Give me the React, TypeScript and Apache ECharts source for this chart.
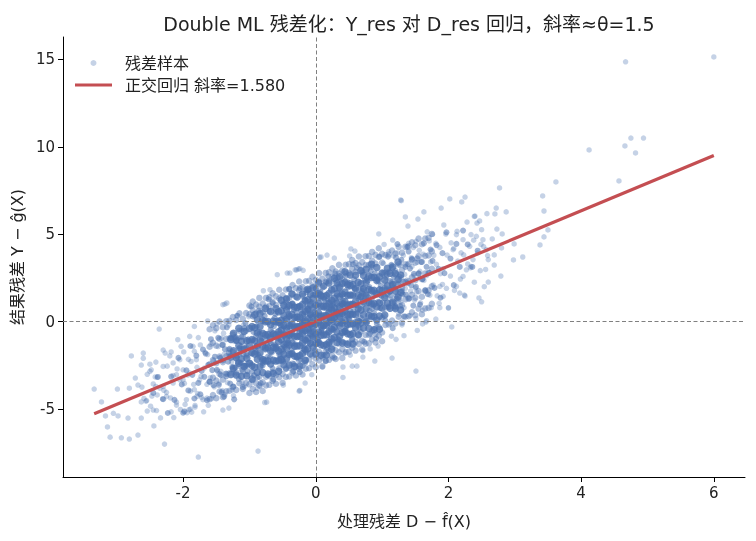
import React, { useEffect, useRef } from "react";
import * as echarts from "echarts";

const FONT = "'DejaVu Sans', 'Noto Sans CJK SC', sans-serif";
const TITLE = "Double ML 残差化：Y_res 对 D_res 回归，斜率≈θ=1.5";
const X_LABEL = "处理残差 D − f\u0302(X)";
const Y_LABEL = "结果残差 Y − ĝ(X)";
const SCATTER_NAME = "残差样本";
const FIT_NAME = "正交回归 斜率=1.580";

const xTicks = [-2, 0, 2, 4, 6];
const yTicks = [-5, 0, 5, 10, 15];
const xLimits = [-3.81, 6.47];
const yLimits = [-8.88, 16.28];

const fitLine = [[-3.34, -5.26], [6.0, 9.5]];

// dense centre of the cloud
const coreSamples = [
  [0.01,0.32],[0.03,-1.15],[0.04,0.86],[0.06,-0.01],[0.07,1.71],[0.09,-0.46],[0.1,0.21],[0.12,-1.91],[0.13,1.31],[0.15,-0.16],[0.16,0.75],[0.18,-0.62],[0.19,2.6],[0.21,0.13],[0.22,1.05],[0.24,-1.12],[0.02,0.18],[0.05,1.38],[0.08,-0.57],[0.11,0.12],[0.14,1.12],[0.17,-1.53],[0.2,0.72],[0.23,0.06],[0.0,1.9],[0.03,-0.95],[0.06,0.35],[0.09,-0.36],[0.12,0.79],[0.15,-2.26],[0.18,1.28],[0.21,0.18],[0.24,0.73],[0.02,-1.27],[0.07,1.61],[0.1,-0.64],[0.13,0.21],[0.16,2.25],[0.19,-0.05],[0.22,0.9],[0.04,-1.04],[0.08,1.33],[0.11,-0.28],[0.17,0.37],[0.2,-1.28],
  [-0.01,-1.62],[-0.03,0.05],[-0.04,-0.51],[-0.06,1.11],[-0.07,-1.21],[-0.09,0.41],[-0.1,-0.51],[-0.12,1.81],[-0.13,-0.21],[-0.15,-1.04],[-0.16,1.25],[-0.18,-1.58],[-0.19,0.05],[-0.21,-0.48],[-0.22,0.65],[-0.24,-2.88],[-0.02,0.57],[-0.05,-0.58],[-0.08,0.12],[-0.11,-1.17],[-0.14,1.68],[-0.17,-0.57],[-0.2,0.08],[-0.23,-2.16],[-0.125,0.7],[-0.03,-0.1],[-0.06,-0.8],[-0.09,1.16],[-0.12,-0.04],[-0.15,-1.74],[-0.18,0.42],[-0.21,-0.53],[-0.24,1.92],[-0.02,-0.93],[-0.07,0.39],[-0.1,-0.56],[-0.13,0.9],[-0.16,-2.35],[-0.19,-0.25],[-0.22,-0.95],[-0.04,1.54],[-0.08,-0.23],[-0.11,0.63],[-0.17,-1.47],[-0.2,-0.02],
  [0.26,0.91],[0.27,-0.47],[0.29,2.76],[0.3,0.27],[0.31,1.19],[0.33,-0.98],[0.34,0.69],[0.35,1.85],[0.37,-0.12],[0.38,0.55],[0.39,1.52],[0.41,-1.15],[0.42,1.06],[0.43,0.38],[0.45,2.61],[0.46,-0.27],[0.47,0.99],[0.49,0.27],[0.26,1.01],[0.28,-2.06],[0.32,1.51],[0.36,0.42],[0.4,0.98],[0.44,-0.61],[0.48,2.26],[0.25,-0.41],[0.29,0.46],[0.33,2.52],[0.37,0.24],[0.41,1.2],[0.45,-0.39],[0.49,1.97],[0.27,-0.02],[0.31,0.59],[0.35,-1.05],[0.39,0.92],[0.43,-0.52],[0.47,1.54],[0.28,0.34],[0.34,2.14],[0.4,0.03],[0.46,0.78],
  [-0.46,-1.23],[-0.4,0.27],[-0.34,-2.84],[-0.28,-0.24],[-0.47,-1.44],[-0.43,0.82],[-0.39,-0.77],[-0.35,-1.85],[-0.31,0.21],[-0.27,-0.38],[-0.49,-1.67],[-0.45,1.09],[-0.41,-1.05],[-0.37,-0.29],[-0.33,-2.42],[-0.29,0.54],[-0.25,-0.65],[-0.48,-0.26],[-0.44,-1.3],[-0.4,1.87],[-0.36,-1.57],[-0.32,-0.36],[-0.28,-0.79],[-0.26,0.89],[-0.49,-2.27],[-0.47,0.06],[-0.46,-0.73],[-0.45,-2.71],[-0.43,-0.33],[-0.42,-1.21],[-0.41,0.45],[-0.39,-1.82],[-0.38,-0.15],[-0.37,-0.69],[-0.35,1.05],[-0.34,-0.84],[-0.33,0.68],[-0.31,-1.29],[-0.3,-0.37],[-0.29,-2.06],[-0.27,0.17],[-0.26,-0.46],
  [0.51,0.11],[0.52,2.22],[0.53,1.04],[0.55,-1.03],[0.56,1.49],[0.57,0.6],[0.58,1.92],[0.6,-0.15],[0.61,0.96],[0.62,3.08],[0.63,0.5],[0.65,1.83],[0.66,-0.36],[0.67,1.41],[0.68,0.22],[0.7,2.81],[0.71,0.97],[0.72,1.59],[0.73,-1.15],[0.74,2.37],[0.5,0.19],[0.54,0.95],[0.59,1.88],[0.64,-0.24],[0.69,1.64],[0.52,0.62],[0.56,3.29],[0.6,0.0],[0.64,1.31],[0.68,-0.58],[0.72,1.89],[0.54,0.45],[0.58,2.42],[0.62,0.93],[0.66,0.04],[0.7,1.76],[0.74,1.32],
  [-0.51,-0.66],[-0.53,-0.19],[-0.55,-1.87],[-0.57,-0.95],[-0.59,0.57],[-0.61,-1.36],[-0.63,-0.25],[-0.65,-2.68],[-0.67,-0.76],[-0.69,-2.04],[-0.71,1.28],[-0.73,-1.35],[-0.52,-0.27],[-0.54,-2.1],[-0.56,0.07],[-0.58,-0.82],[-0.6,-1.55],[-0.62,0.22],[-0.64,-3.31],[-0.66,-0.59],[-0.68,-1.22],[-0.7,0.59],[-0.72,-1.99],[-0.74,-0.82],[-0.5,-2.19],[-0.55,-0.07],[-0.6,-1.45],[-0.65,1.07],[-0.7,-1.11],[-0.53,-1.94],[-0.58,0.08],[-0.63,-1.3],[-0.68,-0.47],[-0.73,-3.05],[-0.56,-0.69],[-0.61,0.44],[-0.66,-1.74],
  [0.76,1.6],[0.77,-0.08],[0.78,2.33],[0.8,1.06],[0.81,1.98],[0.82,-0.7],[0.84,3.13],[0.85,0.74],[0.86,1.41],[0.88,0.49],[0.89,2.76],[0.9,1.67],[0.92,-0.1],[0.93,2.37],[0.94,1.14],[0.96,3.72],[0.97,0.78],[0.98,2.05],[0.75,0.04],[0.79,1.4],[0.83,2.91],[0.87,0.93],[0.91,-0.96],[0.95,2.3],[0.99,1.46],[0.77,2.47],[0.81,0.63],[0.85,1.69],[0.89,-0.39],[0.93,2.47],[0.97,1.53],
  [-0.76,-1.6],[-0.78,0.07],[-0.8,-2.36],[-0.82,-1.1],[-0.84,-2.03],[-0.86,0.64],[-0.88,-3.19],[-0.9,-0.82],[-0.92,-1.5],[-0.94,-0.59],[-0.96,-2.87],[-0.98,-1.8],[-0.77,0.33],[-0.79,-2.15],[-0.81,-0.93],[-0.83,-3.51],[-0.85,-0.59],[-0.87,-1.88],[-0.89,-0.26],[-0.91,-1.59],[-0.93,-3.07],[-0.95,-1.05],[-0.97,0.87],[-0.99,-2.36],[-0.75,-1.09],[-0.8,-2.51],[-0.85,-0.69],[-0.9,-1.77],[-0.95,0.3],[-0.78,-2.23],[-0.88,-1.39],
  [1.01,1.1],[1.02,2.81],[1.04,1.94],[1.05,0.06],[1.06,2.53],[1.08,1.56],[1.09,3.72],[1.1,0.84],[1.12,2.32],[1.13,1.49],[1.14,3.25],[1.16,-0.37],[1.17,1.95],[1.18,2.56],[1.2,0.85],[1.21,3.66],[1.22,1.33],[1.24,2.16],[1.0,0.23],[1.07,2.69],[1.11,1.7],[1.15,2.27],[1.19,1.08],[1.23,4.44],
  [-1.01,-1.1],[-1.03,-2.83],[-1.04,-1.94],[-1.06,-0.08],[-1.07,-2.54],[-1.09,-1.57],[-1.1,-3.74],[-1.12,-0.87],[-1.13,-2.34],[-1.15,-1.52],[-1.16,-3.28],[-1.18,0.34],[-1.19,-1.98],[-1.21,-2.61],[-1.22,-0.88],[-1.24,-3.71],[-1.02,-1.01],[-1.05,-1.86],[-1.08,-0.36],[-1.11,-2.75],[-1.14,-1.75],[-1.17,-2.3],[-1.2,-1.1],[-1.23,-4.44],
  [1.26,2.59],[1.27,0.91],[1.29,3.54],[1.3,1.75],[1.32,2.29],[1.33,0.3],[1.35,3.13],[1.36,1.55],[1.38,4.28],[1.39,2.2],[1.41,1.33],[1.42,3.04],[1.44,2.08],[1.45,3.59],[1.47,0.92],[1.48,2.74],[1.31,1.57],[1.4,4.01],
  [-1.26,-2.59],[-1.28,-0.92],[-1.29,-3.54],[-1.31,-1.77],[-1.32,-2.29],[-1.34,-0.32],[-1.35,-3.13],[-1.37,-1.57],[-1.38,-4.28],[-1.4,-2.21],[-1.41,-1.33],[-1.43,-3.06],[-1.44,-2.08],[-1.46,-3.61],[-1.47,-0.92],[-1.49,-2.75],[-1.3,-1.55],[-1.42,-4.04],
  [1.51,1.99],[1.53,3.62],[1.55,2.75],[1.57,0.98],[1.59,3.41],[1.61,2.44],[1.63,4.48],[1.65,1.81],[1.67,3.14],[1.69,1.57],[1.71,2.8],[1.73,4.13],
  [-1.52,-2.0],[-1.54,-3.63],[-1.56,-2.77],[-1.58,-1.0],[-1.6,-3.43],[-1.62,-2.46],[-1.64,-4.49],[-1.66,-1.82],[-1.68,-3.15],[-1.7,-1.59],[-1.72,-2.82],[-1.74,-4.15],
  [1.76,3.48],[1.79,1.93],[1.82,4.38],[1.85,3.02],[1.88,1.37],[1.91,3.92],[1.94,2.77],[1.97,5.11],
  [-1.77,-3.5],[-1.8,-1.94],[-1.83,-4.39],[-1.86,-3.04],[-1.89,-1.39],[-1.92,-3.93],[-1.95,-2.78],[-1.98,-5.13],
  [2.03,3.61],[2.08,2.09],[2.12,4.45],[2.17,3.13],[2.22,5.21],
  [-2.02,-3.59],[-2.07,-2.07],[-2.13,-4.47],[-2.18,-3.14],[-2.23,-5.22],
  [2.29,4.42],[2.36,3.13],[2.44,4.06],
  [-2.3,-4.43],[-2.38,-3.16],[-2.45,-4.07],
];

// the saturated inner band: one x position, several y values read down the band
const innerBand: [number, number[]][] = [
  [-1.28, [-3.02, -2.02, -1.02]], [-1.24, [-2.66, -1.66, -0.66]], [-1.2, [-3.05, -2.05, -1.05]], [-1.16, [-2.38, -1.38, -0.38]],
  [-1.12, [-3.12, -2.12, -1.12]], [-1.08, [-2.56, -1.56, -0.56]], [-1.04, [-3.09, -2.09, -1.09]], [-1.0, [-2.38, -1.38, -0.38]],
  [-0.96, [-3.27, -2.52, -1.77, -1.02, -0.27]], [-0.92, [-2.6, -1.85, -1.1, -0.35, 0.4]], [-0.88, [-2.89, -2.14, -1.39, -0.64, 0.11]],
  [-0.84, [-2.53, -1.78, -1.03, -0.28, 0.47]], [-0.8, [-2.91, -2.16, -1.41, -0.66, 0.09]], [-0.76, [-2.25, -1.5, -0.75, 0.0, 0.75]],
  [-0.72, [-2.99, -2.24, -1.49, -0.74, 0.01]], [-0.68, [-2.42, -1.67, -0.92, -0.17, 0.58]], [-0.64, [-2.96, -2.21, -1.46, -0.71, 0.04]],
  [-0.6, [-2.25, -1.5, -0.75, 0.0, 0.75]],
  [-0.56, [-2.83, -2.23, -1.68, -1.13, -0.58, -0.03, 0.57]], [-0.52, [-2.17, -1.57, -1.02, -0.47, 0.08, 0.63, 1.23]],
  [-0.48, [-2.46, -1.86, -1.31, -0.76, -0.21, 0.34, 0.94]], [-0.44, [-2.1, -1.5, -0.95, -0.4, 0.15, 0.7, 1.3]],
  [-0.4, [-2.48, -1.88, -1.33, -0.78, -0.23, 0.32, 0.92]], [-0.36, [-1.82, -1.22, -0.67, -0.12, 0.43, 0.98, 1.58]],
  [-0.32, [-2.56, -1.96, -1.41, -0.86, -0.31, 0.24, 0.84]], [-0.28, [-1.99, -1.39, -0.84, -0.29, 0.26, 0.81, 1.41]],
  [-0.24, [-2.53, -1.93, -1.38, -0.83, -0.28, 0.27, 0.87]], [-0.2, [-1.82, -1.22, -0.67, -0.12, 0.43, 0.98, 1.58]],
  [-0.16, [-2.2, -1.6, -1.05, -0.5, 0.05, 0.6, 1.2]], [-0.12, [-1.54, -0.94, -0.39, 0.16, 0.71, 1.26, 1.86]],
  [-0.08, [-1.83, -1.23, -0.68, -0.13, 0.42, 0.97, 1.57]], [-0.04, [-1.46, -0.86, -0.31, 0.24, 0.79, 1.34, 1.94]],
  [0.0, [-1.85, -1.25, -0.7, -0.15, 0.4, 0.95, 1.55]], [0.04, [-1.19, -0.59, -0.04, 0.51, 1.06, 1.61, 2.21]],
  [0.08, [-1.92, -1.32, -0.77, -0.22, 0.33, 0.88, 1.48]], [0.12, [-1.36, -0.76, -0.21, 0.34, 0.89, 1.44, 2.04]],
  [0.16, [-1.9, -1.3, -0.75, -0.2, 0.35, 0.9, 1.5]], [0.2, [-1.18, -0.58, -0.03, 0.52, 1.07, 1.62, 2.22]],
  [0.24, [-1.57, -0.97, -0.42, 0.13, 0.68, 1.23, 1.83]], [0.28, [-0.91, -0.31, 0.24, 0.79, 1.34, 1.89, 2.49]],
  [0.32, [-1.19, -0.59, -0.04, 0.51, 1.06, 1.61, 2.21]], [0.36, [-0.83, -0.23, 0.32, 0.87, 1.42, 1.97, 2.57]],
  [0.4, [-1.22, -0.62, -0.07, 0.48, 1.03, 1.58, 2.18]], [0.44, [-0.55, 0.05, 0.6, 1.15, 1.7, 2.25, 2.85]],
  [0.48, [-1.29, -0.69, -0.14, 0.41, 0.96, 1.51, 2.11]], [0.52, [-0.73, -0.13, 0.42, 0.97, 1.52, 2.07, 2.67]],
  [0.56, [-1.27, -0.67, -0.12, 0.43, 0.98, 1.53, 2.13]],
  [0.6, [-0.35, 0.4, 1.15, 1.9, 2.65]], [0.64, [-0.74, 0.01, 0.76, 1.51, 2.26]], [0.68, [-0.08, 0.67, 1.42, 2.17, 2.92]],
  [0.72, [-0.36, 0.39, 1.14, 1.89, 2.64]], [0.76, [0.0, 0.75, 1.5, 2.25, 3.0]], [0.8, [-0.39, 0.36, 1.11, 1.86, 2.61]],
  [0.84, [0.28, 1.03, 1.78, 2.53, 3.28]], [0.88, [-0.46, 0.29, 1.04, 1.79, 2.54]], [0.92, [0.1, 0.85, 1.6, 2.35, 3.1]],
  [0.96, [-0.43, 0.32, 1.07, 1.82, 2.57]],
  [1.0, [0.78, 1.78, 2.78]], [1.04, [0.39, 1.39, 2.39]], [1.08, [1.06, 2.06, 3.06]], [1.12, [0.77, 1.77, 2.77]],
  [1.16, [1.13, 2.13, 3.13]], [1.2, [0.75, 1.75, 2.75]], [1.24, [1.41, 2.41, 3.41]], [1.28, [0.67, 1.67, 2.67]],
];

// the wider, still dense rim of the cloud
const outerBand: [number, number[]][] = [
  [-1.6, [-4.43, -3.43, -2.43, -1.43, -0.43]], [-1.55, [-4.2, -3.2, -2.2, -1.2, -0.2]], [-1.5, [-4.37, -3.37, -2.37, -1.37, -0.37]],
  [-1.45, [-3.99, -2.99, -1.99, -0.99, 0.01]], [-1.4, [-4.31, -3.31, -2.31, -1.31, -0.31]], [-1.35, [-3.98, -2.98, -1.98, -0.98, 0.02]],
  [-1.3, [-3.95, -2.95, -1.95, -0.95, 0.05]], [-1.25, [-3.73, -2.73, -1.73, -0.73, 0.27]], [-1.2, [-3.9, -2.9, -1.9, -0.9, 0.1]],
  [-1.15, [-3.52, -2.52, -1.52, -0.52, 0.48]], [-1.1, [-3.84, -2.84, -1.84, -0.84, 0.16]], [-1.05, [-3.51, -2.51, -1.51, -0.51, 0.49]],
  [-1.0, [-4.08, -3.58, 0.42, 0.92]], [-0.95, [-3.85, -3.35, 0.65, 1.15]], [-0.9, [-4.02, -3.52, 0.48, 0.98]],
  [-0.85, [-3.64, -3.14, 0.86, 1.36]], [-0.8, [-3.96, -3.46, 0.54, 1.04]], [-0.75, [-3.64, -3.14, 0.86, 1.36]],
  [-0.7, [-3.61, -3.11, 0.89, 1.39]], [-0.65, [-3.38, -2.88, 1.12, 1.62]], [-0.6, [-3.55, -3.05, 0.95, 1.45]],
  [-0.55, [-3.17, -2.67, 1.33, 1.83]], [-0.5, [-3.49, -2.99, 1.01, 1.51]], [-0.45, [-3.16, -2.66, 1.34, 1.84]],
  [-0.4, [-3.13, -2.63, 1.37, 1.87]], [-0.35, [-2.9, -2.4, 1.6, 2.1]], [-0.3, [-3.07, -2.57, 1.43, 1.93]],
  [-0.25, [-2.7, -2.2, 1.8, 2.3]], [-0.2, [-3.02, -2.52, 1.48, 1.98]], [-0.15, [-2.69, -2.19, 1.81, 2.31]],
  [-0.1, [-2.66, -2.16, 1.84, 2.34]], [-0.05, [-2.43, -1.93, 2.07, 2.57]], [0.0, [-2.6, -2.1, 1.9, 2.4]],
  [0.05, [-2.22, -1.72, 2.28, 2.78]], [0.1, [-2.54, -2.04, 1.96, 2.46]], [0.15, [-2.21, -1.71, 2.29, 2.79]],
  [0.2, [-2.18, -1.68, 2.32, 2.82]], [0.25, [-1.95, -1.45, 2.55, 3.05]], [0.3, [-2.13, -1.63, 2.37, 2.87]],
  [0.35, [-1.75, -1.25, 2.75, 3.25]], [0.4, [-2.07, -1.57, 2.43, 2.93]], [0.45, [-1.74, -1.24, 2.76, 3.26]],
  [0.5, [-1.71, -1.21, 2.79, 3.29]], [0.55, [-1.48, -0.98, 3.02, 3.52]], [0.6, [-1.65, -1.15, 2.85, 3.35]],
  [0.65, [-1.27, -0.77, 3.23, 3.73]], [0.7, [-1.59, -1.09, 2.91, 3.41]], [0.75, [-1.26, -0.76, 3.24, 3.74]],
  [0.8, [-1.24, -0.74, 3.26, 3.76]], [0.85, [-1.01, -0.51, 3.49, 3.99]], [0.9, [-1.18, -0.68, 3.32, 3.82]],
  [0.95, [-0.8, -0.3, 3.7, 4.2]], [1.0, [-1.12, -0.62, 3.38, 3.88]],
  [1.05, [-0.19, 0.81, 1.81, 2.81, 3.81]], [1.1, [-0.16, 0.84, 1.84, 2.84, 3.84]], [1.15, [0.07, 1.07, 2.07, 3.07, 4.07]],
  [1.2, [-0.1, 0.9, 1.9, 2.9, 3.9]], [1.25, [0.28, 1.28, 2.28, 3.28, 4.28]], [1.3, [-0.05, 0.95, 1.95, 2.95, 3.95]],
  [1.35, [0.28, 1.28, 2.28, 3.28, 4.28]], [1.4, [0.31, 1.31, 2.31, 3.31, 4.31]], [1.45, [0.54, 1.54, 2.54, 3.54, 4.54]],
  [1.5, [0.37, 1.37, 2.37, 3.37, 4.37]], [1.55, [0.75, 1.75, 2.75, 3.75, 4.75]], [1.6, [0.43, 1.43, 2.43, 3.43, 4.43]],
  [1.65, [0.76, 1.76, 2.76, 3.76, 4.76]], [1.7, [0.79, 1.79, 2.79, 3.79, 4.79]], [1.75, [1.02, 2.02, 3.02, 4.02, 5.02]],
];

// lighter points around the cloud
const tailRight = [
  [1.03,0.33],[1.04,2.23],[1.02,3.33],[1.05,1.43],[1.08,2.81],[1.09,0.91],[1.07,1.91],[1.1,4.01],
  [1.13,1.29],[1.14,3.19],[1.12,-0.11],[1.15,2.69],[1.18,2.16],[1.19,0.76],[1.17,3.76],[1.2,1.46],
  [1.23,3.94],[1.24,1.64],[1.22,2.74],[1.25,0.44],[1.28,1.12],[1.29,2.52],[1.27,3.22],[1.3,-0.18],
  [1.33,0.8],[1.34,2.7],[1.32,3.8],[1.35,1.9],[1.38,3.28],[1.39,1.38],[1.37,2.38],[1.4,4.48],
  [1.43,1.76],[1.44,3.66],[1.42,0.36],[1.45,3.16],[1.48,2.64],[1.49,1.24],[1.47,4.24],[1.5,1.94],
  [1.52,1.7],[1.53,3.4],[1.51,4.6],[1.57,2.88],[1.58,1.08],[1.56,4.08],[1.62,3.86],[1.63,2.36],[1.61,0.66],
  [1.67,2.64],[1.68,5.14],[1.66,1.74],[1.72,1.52],[1.73,3.42],[1.71,4.62],[1.77,2.1],[1.78,3.8],[1.76,5.0],
  [1.82,3.28],[1.83,1.48],[1.81,4.48],[1.87,4.25],[1.88,2.75],[1.86,1.05],[1.92,3.03],[1.93,5.53],[1.91,2.13],
  [1.97,1.91],[1.98,3.81],[1.96,5.01],[2.03,2.61],[2.04,4.51],[2.08,4.19],[2.09,1.79],[2.13,5.17],[2.14,3.47],
  [2.18,2.44],[2.19,3.94],[2.23,3.82],[2.24,1.52],[2.28,5.7],[2.29,3.3],[2.33,3.08],[2.34,4.98],[2.38,4.66],
  [2.39,2.26],[2.43,5.64],[2.44,3.94],[2.48,2.92],[2.49,4.42],[2.53,4.3],[2.54,2.0],[2.58,6.18],[2.59,3.78],
];

const tailLeft = [
  [-1.02,-1.11],[-1.03,-3.01],[-1.01,0.29],[-1.04,-2.51],[-1.07,-3.69],[-1.08,-1.39],[-1.06,-2.49],[-1.09,-0.19],
  [-1.12,-0.47],[-1.13,-2.37],[-1.11,-3.47],[-1.14,-1.57],[-1.17,-0.95],[-1.18,-2.35],[-1.16,-3.05],[-1.19,0.35],
  [-1.22,-3.03],[-1.23,-1.13],[-1.21,-2.13],[-1.24,-4.23],[-1.27,-2.31],[-1.28,-0.91],[-1.26,-3.91],[-1.29,-1.61],
  [-1.32,-1.59],[-1.33,-3.49],[-1.31,-0.19],[-1.34,-2.99],[-1.37,-4.16],[-1.38,-1.86],[-1.36,-2.96],[-1.39,-0.66],
  [-1.42,-0.94],[-1.43,-2.84],[-1.41,-3.94],[-1.44,-2.04],[-1.47,-1.42],[-1.48,-2.82],[-1.46,-3.52],[-1.49,-0.12],
  [-1.53,-3.72],[-1.54,-2.22],[-1.52,-0.52],[-1.58,-1.3],[-1.59,-3.2],[-1.57,-4.4],[-1.63,-1.88],[-1.64,-3.58],[-1.62,-4.78],
  [-1.68,-2.65],[-1.69,-5.15],[-1.67,-1.75],[-1.73,-3.13],[-1.74,-1.33],[-1.72,-4.33],[-1.78,-4.11],[-1.79,-2.61],[-1.77,-0.91],
  [-1.83,-1.69],[-1.84,-3.59],[-1.82,-4.79],[-1.88,-2.27],[-1.89,-3.97],[-1.87,-5.17],[-1.93,-3.05],[-1.94,-5.2],[-1.92,-2.15],
  [-1.98,-3.53],[-1.99,-1.73],[-1.97,-4.73],[-2.04,-5.02],[-2.05,-3.32],[-2.09,-2.7],[-2.1,-4.6],[-2.14,-5.48],[-2.15,-3.08],
  [-2.19,-4.36],[-2.2,-1.96],[-2.24,-2.54],[-2.25,-4.04],[-2.29,-3.92],[-2.3,-1.62],[-2.34,-5.5],[-2.35,-3.8],[-2.39,-3.18],
  [-2.4,-5.08],[-2.44,-5.96],[-2.45,-3.56],[-2.49,-4.83],[-2.5,-2.43],[-2.54,-3.01],[-2.55,-4.51],[-2.59,-4.39],[-2.6,-2.09],
];

const edgeUpperRight = [
  [6.0,15.14],[4.67,14.86],[4.75,10.5],[4.94,10.5],[4.66,10.05],[4.82,9.65],[4.12,9.82],[4.57,8.05],[3.62,7.99],[3.42,7.19],
  [3.44,6.33],[3.5,5.25],[3.44,4.85],[2.77,7.65],[2.87,6.28],[2.81,5.02],[2.25,7.13],[2.2,6.85],[2.02,7.02],[1.63,6.28],
  [1.89,6.5],[2.72,6.5],[2.7,6.16],[2.4,6.04],[2.47,5.76],[3.38,4.39],[2.99,4.45],[3.12,3.7],[2.98,3.53],[2.73,5.3],
  [2.66,4.73],[2.69,3.82],[2.69,3.24],[2.79,2.61],[2.6,2.27],[2.56,2.99],[2.46,1.36],[2.5,1.14],[2.25,1.47],[2.05,-0.3],
  [2.0,0.78],[1.81,0.15],[1.66,-0.02],[1.28,6.96],[1.35,5.99],[1.54,5.87],[1.39,5.47],[0.95,5.02],[2.07,4.12],[2.12,4.98],
  [2.22,4.69],[2.32,4.31],[2.42,4.88],[2.5,5.26],[2.39,6.02],[2.52,4.69],[2.37,3.55],[2.22,2.59],[2.12,2.02],[1.92,1.45],
  [1.87,2.02],[2.17,1.64],[2.34,3.16],[2.27,2.97],[2.57,4.12],[2.8,4.22],[2.6,3.55],
];

const edgeLowerRight = [
  [1.51,-2.82],[0.41,-3.19],[0.41,-2.59],[0.55,-2.54],[0.62,-2.54],[0.89,-2.25],[1.15,-2.08],[0.94,-1.39],[0.71,-2.02],
  [0.82,-1.56],[1.14,-0.83],[1.21,-1.01],[1.33,-0.8],[1.51,0.17],[0.71,-1.66],[0.52,-1.91],[0.44,-1.79],[0.25,-2.08],
  [0.1,-2.59],[-0.16,-3.51],[-0.06,-3.03],[-0.24,-3.93],[1.53,-0.5],[1.61,-0.13],[1.67,0.06],[2.0,0.8],[1.87,0.8],[1.74,0.8],
];

const edgeUpperLeft = [
  [-1.4,0.97],[-1.34,1.07],[-1.63,0.04],[-1.83,-0.27],[-0.58,2.69],[-0.79,1.77],[-0.69,1.83],[-0.31,2.97],[-0.26,3.01],
  [-0.19,2.94],[-0.43,2.78],[0.06,3.68],[0.08,3.7],[0.17,3.81],[0.28,3.64],[0.51,3.76],[0.53,4.16],[0.59,4.04],[1.29,6.92],
  [1.16,4.67],[1.03,4.42],[-0.29,2.96],[-0.24,3.03],[-0.39,2.78],[-1.37,1.01],[-2.36,-0.42],
];

const edgeLowerLeft = [
  [-1.77,-7.74],[-0.87,-7.4],[-0.77,-4.62],[-0.74,-4.6],[-1.4,-5.05],[-1.31,-4.94],[-2.0,-5.23],[-1.91,-5.03],[-1.82,-4.88],
  [-1.79,-4.27],[-1.64,-4.37],[-0.25,-3.97],[-0.49,-3.63],[-0.84,-3.7],[-0.88,-3.81],[-3.34,-3.85],[-3.23,-4.59],[-3.17,-5.39],
  [-3.14,-6.02],[-3.1,-6.6],[-2.93,-6.64],[-2.81,-6.71],[-2.68,-6.48],[-2.28,-7.0],[-3.05,-5.24],[-2.98,-5.39],[-2.83,-5.51],
  [-2.63,-5.51],[-2.99,-3.85],[-2.81,-3.8],[-2.72,-3.22],[-2.63,-2.48],[-2.78,-1.96],[-2.6,-1.79],[-2.68,-3.62],[-2.62,-3.74],
  [-2.63,-4.59],[-2.56,-4.54],[-2.45,-5.05],[-2.54,-5.11],[-2.47,-4.25],[-2.41,-2.31],[-2.48,-2.75],[-2.42,-3.16],[-2.39,-4.19],
  [-2.31,-4.42],[-2.18,-5.15],[-2.1,-4.77],[-2.0,-5.2],[-1.89,-5.0],[-2.27,-1.79],[-2.18,-1.73],[-2.5,-2.84],[-2.3,-2.56],
  [-2.15,-2.36],[-2.05,-2.17],[-2.03,-1.41],[-2.08,-1.03],[-2.3,-3.7],[-2.15,-3.51],[-2.0,-3.32],[-1.9,-2.94],[-1.83,-3.89],
  [-1.95,-4.46],[-2.25,-4.27],[-2.41,-3.7],[-1.85,-1.41],[-1.9,-0.84],[-1.8,-2.17],[-1.75,-3.32],[-1.7,-4.46],[-2.0,-2.75],[-2.1,-3.03],
];

const BLUE = "#4C72B0";
const RED = "#C44E52";
const INK = "#222222";

function unfold(cols: [number, number[]][]): number[][] {
  const out: number[][] = [];
  cols.forEach(([x, ys]) => ys.forEach((y) => out.push([x, y])));
  return out;
}

export default function App() {
  const ref = useRef<HTMLDivElement>(null);
  useEffect(() => {
    if (!ref.current) return;
    const chart = echarts.init(ref.current, undefined, { renderer: "svg" });
    const sparse = [...tailRight, ...tailLeft, ...edgeUpperRight, ...edgeLowerRight, ...edgeUpperLeft, ...edgeLowerLeft];
    chart.setOption({
      animation: false,
      textStyle: { fontFamily: FONT },
      title: {
        text: TITLE,
        left: 404,
        top: 9,
        textAlign: "center",
        textStyle: { fontSize: 19, fontWeight: "normal", color: INK, fontFamily: FONT },
      },
      legend: {
        orient: "vertical",
        left: 70,
        top: 50,
        itemWidth: 37,
        itemHeight: 6,
        itemGap: 6,
        textStyle: { fontSize: 16, color: INK, fontFamily: FONT, padding: [0, 0, 0, 8] },
        data: [
          { name: SCATTER_NAME, icon: "circle" },
          { name: FIT_NAME, icon: "path://M0 0H37V3H0Z", itemStyle: { color: RED, opacity: 1 } },
        ],
      },
      grid: { left: 63, right: 11, top: 37, bottom: 64 },
      xAxis: {
        type: "value",
        min: xLimits[0],
        max: xLimits[1],
        name: X_LABEL,
        nameLocation: "middle",
        nameGap: 36,
        nameTextStyle: { fontSize: 16, color: INK, fontFamily: FONT },
        axisLine: { show: true, onZero: false, lineStyle: { color: "#000", width: 1 } },
        axisTick: { show: true, length: 5, customValues: xTicks, lineStyle: { color: "#000" } },
        axisLabel: { customValues: xTicks, fontSize: 15, color: INK, margin: 8, formatter: (v: number) => String(v) },
        splitLine: { show: false },
      },
      yAxis: {
        type: "value",
        min: yLimits[0],
        max: yLimits[1],
        name: Y_LABEL,
        nameLocation: "middle",
        nameGap: 35,
        nameTextStyle: { fontSize: 16, color: INK, fontFamily: FONT },
        axisLine: { show: true, onZero: false, lineStyle: { color: "#000", width: 1 } },
        axisTick: { show: true, length: 5, customValues: yTicks, lineStyle: { color: "#000" } },
        axisLabel: { customValues: yTicks, fontSize: 15, color: INK, margin: 8, formatter: (v: number) => String(v) },
        splitLine: { show: false },
      },
      series: [
        {
          name: SCATTER_NAME,
          type: "scatter",
          data: sparse,
          symbol: "circle",
          symbolSize: 5.5,
          itemStyle: { color: BLUE, opacity: 0.32 },
          z: 2,
        },
        {
          name: SCATTER_NAME,
          type: "scatter",
          data: unfold(outerBand),
          symbol: "circle",
          symbolSize: 6.5,
          itemStyle: { color: BLUE, opacity: 0.45 },
          z: 2,
        },
        {
          name: SCATTER_NAME,
          type: "scatter",
          data: coreSamples,
          symbol: "circle",
          symbolSize: 6,
          itemStyle: { color: BLUE, opacity: 0.55 },
          z: 2,
        },
        {
          name: SCATTER_NAME,
          type: "scatter",
          data: unfold(innerBand),
          symbol: "circle",
          symbolSize: 7.5,
          itemStyle: { color: BLUE, opacity: 0.78 },
          z: 2,
        },
        {
          type: "scatter",
          data: [],
          z: 3,
          markLine: {
            silent: true,
            symbol: ["none", "none"],
            label: { show: false },
            lineStyle: { color: "#808080", type: [4, 2.5], width: 1 },
            data: [{ yAxis: 0 }, { xAxis: 0 }],
          },
        },
        {
          name: FIT_NAME,
          type: "line",
          data: fitLine,
          symbol: "none",
          lineStyle: { color: RED, width: 3.2 },
          itemStyle: { color: RED },
          z: 4,
        },
      ],
    });
    return () => chart.dispose();
  }, []);
  return <div ref={ref} style={{ position: "fixed", left: 0, top: 0, width: 756, height: 541 }} />;
}
